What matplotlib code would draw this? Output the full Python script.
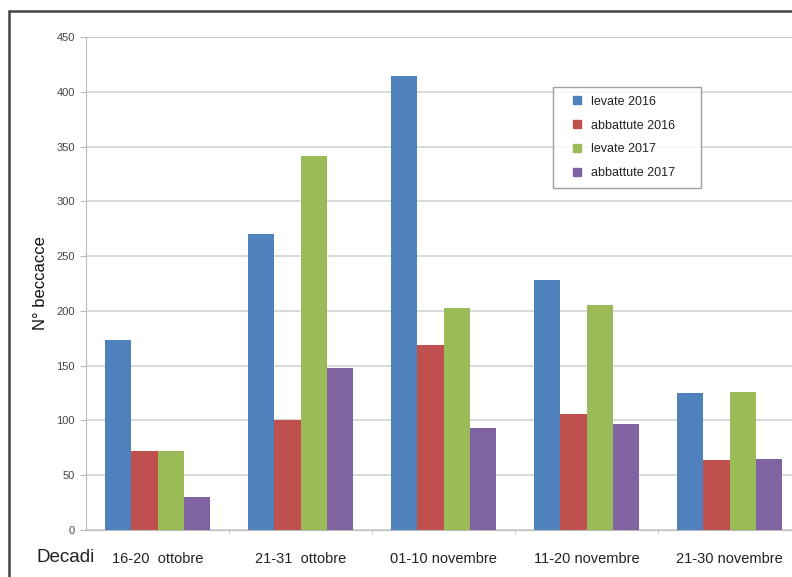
import matplotlib.pyplot as plt
import numpy as np
from matplotlib.patches import Rectangle
from matplotlib.lines import Line2D

plt.rcParams['font.family'] = ['Liberation Sans', 'DejaVu Sans']

# data
decadi = ['16-20  ottobre', '21-31  ottobre', '01-10 novembre',
          '11-20 novembre', '21-30 novembre']
levate_2016 = [173, 270, 414, 228, 125]
abbattute_2016 = [72, 100, 169, 106, 64]
levate_2017 = [72, 341, 203, 205, 126]
abbattute_2017 = [30, 148, 93, 97, 65]

series = [
    ('levate 2016', levate_2016, '#4F81BD'),
    ('abbattute 2016', abbattute_2016, '#C0504D'),
    ('levate 2017', levate_2017, '#9BBB59'),
    ('abbattute 2017', abbattute_2017, '#8064A2'),
]

fig = plt.figure(figsize=(7.92, 5.77), dpi=100)
# axes runs a bit past the right edge, as in the cropped original
ax = fig.add_axes([86 / 792, 1 - 530 / 577, 715 / 792, 493 / 577])

# outer frame of the original picture
fig.patches.append(Rectangle((9 / 792, -0.05), 1.2, 1 - 10.5 / 577 + 0.05,
                             transform=fig.transFigure, fill=False,
                             edgecolor='#444444', linewidth=1.8, zorder=0))

x = np.arange(len(decadi))
w = 0.182
for i, (name, vals, col) in enumerate(series):
    ax.bar(x + (i - 1.5) * w, vals, w, color=col, label=name, zorder=3)

ax.set_xlim(-0.5, len(decadi) - 0.5)
ax.set_ylim(0, 450)
ax.set_yticks(range(0, 451, 50))
ax.yaxis.grid(True, color='#d0d0d0', linewidth=1.1, zorder=0)
ax.axhline(450, color='#999999', linewidth=1.3, zorder=1)

for s in ['top', 'right']:
    ax.spines[s].set_visible(False)
ax.spines['left'].set_color('#bbbbbb')
ax.spines['bottom'].set_color('#bbbbbb')

ax.set_xticks(x)
ax.set_xticklabels(decadi, fontsize=10.5, color='#222222')
ax.set_xticks(np.arange(0.5, len(decadi) - 0.5), minor=True)
ax.tick_params(axis='x', which='major', length=0, pad=16)
ax.tick_params(axis='x', which='minor', length=3, color='#bbbbbb')
ax.tick_params(axis='y', labelsize=8, labelcolor='#444444', length=4,
               color='#bbbbbb', pad=4)

ax.set_ylabel('N° beccacce', fontsize=12, color='#111111', labelpad=6)
fig.text(37 / 792, 1 - 558 / 577, 'Decadi', fontsize=13.5, color='#222222',
         va='center', ha='left')

handles = [Line2D([], [], linestyle='none', marker='s', markersize=6,
                  markerfacecolor=col, markeredgecolor=col)
           for _, _, col in series]
labels = [name for name, _, _ in series]
x0 = (553 - 86) / 715
y_top = (530 - 87) / 493
leg = ax.legend(handles, labels, loc='upper left',
                bbox_to_anchor=(x0, y_top - 0.25, 148 / 715, 0.25),
                mode='expand', fontsize=9, frameon=True, fancybox=False,
                handlelength=2.4, labelspacing=0.95, borderpad=0.7,
                handletextpad=-0.1, borderaxespad=0)
leg.get_frame().set_edgecolor('#888888')
leg.get_frame().set_linewidth(1.0)
for t in leg.get_texts():
    t.set_color('#222222')

fig.savefig('out.png', dpi=100)
